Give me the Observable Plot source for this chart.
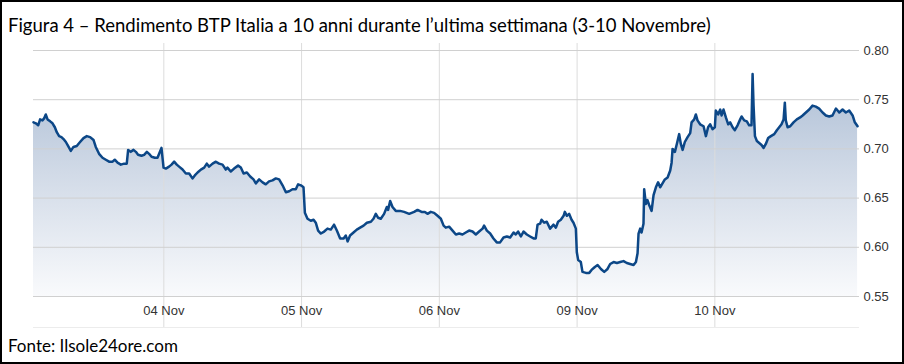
<!DOCTYPE html>
<html>
<head>
<meta charset="utf-8">
<script src="https://cdn.jsdelivr.net/npm/d3@7"></script>
<script src="https://cdn.jsdelivr.net/npm/@observablehq/plot@0.6"></script>
<style>
  html, body { margin: 0; padding: 0; background: #fff; }
  #wrap { position: relative; width: 904px; height: 364px; overflow: hidden; background: #fff; }
  #frame { position: absolute; left: 0; top: 0; width: 904px; height: 364px; box-sizing: border-box; border: 2px solid #000; pointer-events: none; }
  #title { position: absolute; left: 8px; top: 14px; font-family: Lato, "Open Sans", sans-serif; font-size: 18.5px; line-height: 22px; color: #000; white-space: nowrap; }
  #caption { position: absolute; left: 8px; top: 335px; font-family: Lato, "Open Sans", sans-serif; font-size: 17px; line-height: 22px; color: #000; white-space: nowrap; }
  #chart { position: absolute; left: 0; top: 40px; }
</style>
</head>
<body>
<div id="wrap">
  <div id="title">Figura 4 – Rendimento BTP Italia a 10 anni durante l’ultima settimana (3-10 Novembre)</div>
  <div id="chart"></div>
  <div id="caption">Fonte: Ilsole24ore.com</div>
  <div id="frame"></div>
</div>
<script>
// time in trading-day units (1 = 04 Nov, 2 = 05 Nov, 3 = 06 Nov, 4 = 09 Nov, 5 = 10 Nov)
const t = [
  0.054,0.071,0.088,0.102,0.119,0.131,0.143,0.156,0.175,0.192,0.209,0.223,0.240,0.257,0.272,0.289,0.305,0.325,0.344,0.368,
  0.392,0.417,0.441,0.465,0.490,0.506,0.530,0.555,0.579,0.603,0.628,0.644,0.664,0.688,0.712,0.731,0.741,0.760,0.780,0.797,
  0.813,0.838,0.857,0.877,0.893,0.911,0.935,0.954,0.966,0.983,0.998,1.015,1.038,
  1.056,1.075,1.094,1.111,1.136,1.160,1.184,1.208,1.225,1.245,1.269,1.293,1.312,1.329,1.354,1.378,1.401,1.426,1.450,1.462,
  1.486,1.510,1.539,1.559,1.579,1.603,1.627,1.651,1.668,1.692,1.717,1.740,1.764,1.789,1.813,1.837,1.862,1.886,1.910,1.934,
  1.958,1.975,1.995,2.014,2.024,2.043,
  2.067,2.087,2.103,2.120,2.140,2.164,2.188,2.212,2.236,2.256,2.280,2.305,2.321,2.334,2.352,2.377,2.401,2.425,2.450,2.474,
  2.503,2.522,2.539,2.556,2.575,2.599,2.619,2.628,2.643,2.660,2.684,2.715,2.744,2.781,2.817,2.842,2.871,2.895,2.914,2.938,
  2.962,2.987,3.011,3.031,3.047,
  3.071,3.096,3.120,3.144,3.168,3.192,3.216,3.241,3.265,3.289,3.314,3.325,3.345,3.369,3.393,3.417,3.441,3.466,3.490,3.514,
  3.539,3.555,3.572,3.592,3.611,3.635,3.659,3.684,3.700,3.713,3.732,3.742,3.761,3.780,3.804,3.829,3.846,3.862,3.882,3.902,
  3.911,3.926,3.942,3.960,3.974,3.991,3.998,4.008,4.027,4.039,4.064,4.088,
  4.105,4.129,4.149,4.173,4.197,4.221,4.240,4.265,4.289,4.313,4.337,4.361,4.385,4.410,4.427,4.439,4.446,4.458,4.468,4.482,
  4.487,4.499,4.511,4.523,4.541,4.555,4.572,4.588,4.603,4.620,4.637,4.657,4.676,4.686,4.693,4.710,4.724,4.741,4.753,4.766,
  4.782,4.802,4.821,4.831,4.850,4.862,4.874,4.893,4.918,4.935,4.951,4.966,4.983,5.000,
  5.007,5.024,5.039,5.049,5.063,5.080,5.097,5.111,5.129,5.145,5.165,5.184,5.194,5.213,5.232,5.249,5.266,5.274,5.281,5.291,
  5.305,5.322,5.339,5.354,5.370,5.387,5.407,5.431,5.450,5.467,5.484,5.499,5.508,5.515,5.528,5.547,5.571,5.595,5.619,5.637,
  5.661,5.685,5.709,5.733,5.757,5.782,5.806,5.830,5.854,5.879,5.903,5.927,5.951,5.975,6.000,6.016,6.036
];
// 10-year BTP yield (%)
const yld = [
  0.727,0.726,0.724,0.730,0.729,0.731,0.735,0.730,0.728,0.726,0.722,0.717,0.713,0.712,0.710,0.707,0.703,0.698,0.702,0.703,
  0.707,0.711,0.713,0.712,0.709,0.702,0.695,0.691,0.689,0.687,0.687,0.689,0.686,0.684,0.685,0.685,0.699,0.697,0.699,0.697,
  0.694,0.693,0.694,0.697,0.695,0.692,0.691,0.691,0.695,0.701,0.681,0.680,0.682,
  0.684,0.687,0.684,0.682,0.679,0.675,0.675,0.670,0.673,0.676,0.679,0.681,0.685,0.682,0.685,0.687,0.685,0.684,0.679,0.681,
  0.677,0.680,0.683,0.681,0.675,0.676,0.672,0.669,0.665,0.669,0.666,0.664,0.667,0.668,0.670,0.669,0.663,0.656,0.657,0.659,
  0.659,0.664,0.663,0.661,0.635,0.629,
  0.627,0.628,0.625,0.617,0.614,0.616,0.619,0.618,0.623,0.617,0.609,0.609,0.612,0.606,0.612,0.615,0.618,0.620,0.622,0.625,
  0.626,0.629,0.634,0.630,0.629,0.634,0.641,0.638,0.647,0.641,0.637,0.637,0.636,0.634,0.636,0.638,0.636,0.636,0.634,0.636,
  0.635,0.632,0.629,0.622,0.620,
  0.621,0.617,0.613,0.614,0.613,0.615,0.617,0.616,0.613,0.616,0.619,0.622,0.617,0.614,0.609,0.605,0.605,0.610,0.611,0.610,
  0.615,0.613,0.616,0.611,0.616,0.613,0.611,0.609,0.609,0.623,0.624,0.628,0.625,0.626,0.619,0.623,0.620,0.626,0.628,0.632,
  0.636,0.632,0.634,0.628,0.625,0.619,0.595,0.587,0.585,0.575,0.574,0.574,
  0.577,0.580,0.582,0.578,0.575,0.578,0.583,0.585,0.584,0.585,0.586,0.584,0.583,0.582,0.585,0.594,0.614,0.619,0.615,0.624,
  0.659,0.644,0.648,0.643,0.637,0.653,0.661,0.666,0.661,0.665,0.669,0.671,0.678,0.686,0.700,0.697,0.705,0.715,0.705,0.699,
  0.707,0.712,0.716,0.727,0.730,0.735,0.729,0.725,0.723,0.713,0.722,0.725,0.720,0.722,
  0.739,0.735,0.740,0.734,0.740,0.732,0.725,0.727,0.722,0.719,0.724,0.730,0.733,0.729,0.728,0.724,0.724,0.776,0.744,0.713,
  0.708,0.706,0.704,0.701,0.705,0.711,0.713,0.715,0.719,0.722,0.725,0.730,0.747,0.729,0.722,0.723,0.727,0.730,0.732,0.734,
  0.737,0.740,0.744,0.743,0.741,0.737,0.734,0.733,0.734,0.741,0.737,0.740,0.737,0.739,0.734,0.727,0.723
];
const xTicks = [1, 2, 3, 4, 5];
const xTickLabels = ["04 Nov", "05 Nov", "06 Nov", "09 Nov", "10 Nov"];
const yTicks = [0.55, 0.60, 0.65, 0.70, 0.75, 0.80];

const data = t.map((d, i) => ({t: d, y: yld[i]}));
const labelOf = new Map(xTicks.map((d, i) => [d, xTickLabels[i]]));

const gradientDefs = (index, scales) => {
  const yTop = scales && scales.y ? scales.y(0.80) : 10;
  const yBot = scales && scales.y ? scales.y(0.55) : 256;
  const defs = d3.create("svg:defs");
  const g = defs.append("linearGradient")
    .attr("id", "areaGrad")
    .attr("gradientUnits", "userSpaceOnUse")
    .attr("x1", 0).attr("x2", 0)
    .attr("y1", yTop).attr("y2", yBot);
  g.append("stop").attr("offset", 0).attr("stop-color", "#a5b8d1");
  g.append("stop").attr("offset", 0.5).attr("stop-color", "#d1dae7");
  g.append("stop").attr("offset", 1).attr("stop-color", "#f9fafc");
  return defs.node();
};

const chart = Plot.plot({
  width: 904,
  height: 300,
  marginTop: 10,
  marginBottom: 44,
  marginLeft: 33,
  marginRight: 45,
  style: {fontFamily: "'Liberation Sans', Arial, sans-serif", fontSize: "13px", color: "#333", background: "transparent", overflow: "visible"},
  x: {domain: [0.054, 6.05], label: null},
  y: {domain: [0.55, 0.80], label: null},
  marks: [
    gradientDefs,
    Plot.areaY(data, {x: "t", y1: 0.55, y2: "y", fill: "url(#areaGrad)"}),
    Plot.ruleX(xTicks, {stroke: "#dcdcdc", strokeWidth: 1, insetTop: -7, insetBottom: -31}),
    Plot.ruleY(yTicks, {stroke: "#d0d0d0", strokeWidth: 1}),
    Plot.ruleY([0.55], {stroke: "#ececec", strokeWidth: 1, dy: 31}),
    Plot.lineY(data, {x: "t", y: "y", stroke: "#0c4787", strokeWidth: 2.5, strokeLinejoin: "round"}),
    Plot.axisX(xTicks, {anchor: "bottom", label: null, tickSize: 0, tickPadding: 9, tickFormat: d => labelOf.get(d), fill: "#333"}),
    Plot.axisY(yTicks, {anchor: "right", label: null, tickSize: 0, tickPadding: 4, tickFormat: d => d.toFixed(2), fill: "#333"})
  ]
});
document.getElementById("chart").appendChild(chart);
</script>
</body>
</html>
